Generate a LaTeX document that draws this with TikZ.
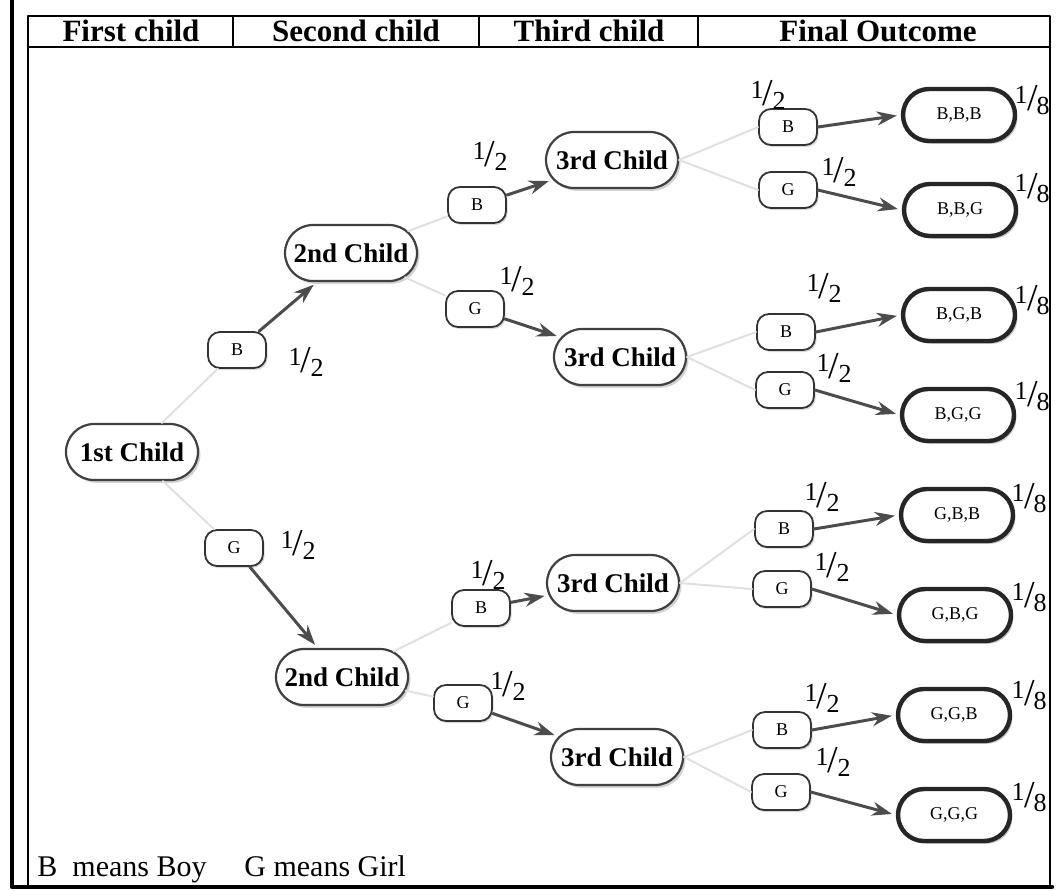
\documentclass[tikz,border=0pt]{standalone}
\usepackage{fontspec}
\setmainfont{Liberation Serif}
\usepackage{tikz}
\usetikzlibrary{arrows.meta,shapes.misc,shadows}

\newcommand{\frc}[2]{\raisebox{0.55ex}{#1}\kern-0.02em{\fontsize{19}{19}\selectfont/}\kern-0.04em\raisebox{-0.4ex}{#2}}

\tikzset{
	stage/.style={rounded rectangle, draw=black!75, line width=1.1pt, fill=white,
		drop shadow={shadow xshift=1.2pt, shadow yshift=-1.4pt, fill=black!35},
		minimum width=68pt, minimum height=28pt, inner sep=1pt,
		font=\fontsize{13.5}{13.5}\selectfont\bfseries},
	letter/.style={rounded corners=6pt, draw=black!80, line width=0.9pt, fill=white,
		drop shadow={shadow xshift=0.8pt, shadow yshift=-1pt, fill=black!30},
		minimum width=29pt, minimum height=18pt, inner sep=1pt,
		font=\fontsize{9}{9}\selectfont},
	outcome/.style={rounded rectangle, draw=black!85, line width=2.2pt, fill=white,
		drop shadow={shadow xshift=1.2pt, shadow yshift=-1.4pt, fill=black!45},
		minimum width=58pt, minimum height=26pt, inner sep=1pt,
		font=\fontsize{9}{9}\selectfont},
	prob/.style={inner sep=0pt, font=\fontsize{13}{13}\selectfont},
	branch/.style={draw=black!70, line width=1.5pt, shorten >=2pt,
		-{Stealth[length=10pt,width=7pt]}},
	faint/.style={draw=black!12, line width=1pt},
	head/.style={font=\fontsize{15.5}{15.5}\selectfont\bfseries},
	legend/.style={anchor=base west, inner sep=0pt, font=\fontsize{15}{15}\selectfont}
}

\begin{document}
\begin{tikzpicture}[x=0.5pt,y=-0.5pt, line cap=round, line join=round]

	\useasboundingbox (0,0) rectangle (1058,890);

	% frame and header row
	\draw[line width=2.2pt] (12,0) -- (12,887) -- (1052,887);
	\draw[line width=0.9pt] (28,887) -- (28,16) -- (1050,16) -- (1050,887);
	\draw[line width=1.2pt] (28,47) -- (1050,47);
	\draw[line width=0.8pt] (233,16) -- (233,47);
	\draw[line width=0.8pt] (479,16) -- (479,47);
	\draw[line width=0.8pt] (698,16) -- (698,47);

	\node[head] (h1) at (131,31) {First child};
	\node[head] (h2) at (356,31) {Second child};
	\node[head] (h3) at (589,31) {Third child};
	\node[head] (h4) at (878,31) {Final Outcome};

	% first child
	\node[stage] (c1) at (132,452) {1st Child};

	% second child
	\node[letter] (b) at (237,350) {B};
	\node[letter] (g) at (234,548) {G};
	\node[prob] (pb) at (306,362) {\frc{1}{2}};
	\node[prob] (pg) at (298,545) {\frc{1}{2}};
	\node[stage] (cb) at (351,253) {2nd Child};
	\node[stage] (cg) at (342,677) {2nd Child};

	% third child
	\node[letter] (bb) at (477,205) {B};
	\node[letter] (bg) at (475,309) {G};
	\node[letter] (gb) at (481,608) {B};
	\node[letter] (gg) at (463,703) {G};
	\node[prob] (pbb) at (490,156) {\frc{1}{2}};
	\node[prob] (pbg) at (517,281) {\frc{1}{2}};
	\node[prob] (pgb) at (488,575) {\frc{1}{2}};
	\node[prob] (pgg) at (508,686) {\frc{1}{2}};
	\node[stage] (cbb) at (612,160) {3rd Child};
	\node[stage] (cbg) at (620,357) {3rd Child};
	\node[stage] (cgb) at (613,583) {3rd Child};
	\node[stage] (cgg) at (617,757) {3rd Child};

	% final outcome
	\node[letter] (bbb) at (788,127) {B};
	\node[letter] (bbg) at (788,190) {G};
	\node[letter] (bgb) at (786,332) {B};
	\node[letter] (bgg) at (785,390) {G};
	\node[letter] (gbb) at (784,529) {B};
	\node[letter] (gbg) at (782,589) {G};
	\node[letter] (ggb) at (782,730) {B};
	\node[letter] (ggg) at (781,792) {G};

	\node[prob] (pbbb) at (768,95) {\frc{1}{2}};
	\node[prob] (pbbg) at (839,172) {\frc{1}{2}};
	\node[prob] (pbgb) at (824,288) {\frc{1}{2}};
	\node[prob] (pbgg) at (834,368) {\frc{1}{2}};
	\node[prob] (pgbb) at (822,497) {\frc{1}{2}};
	\node[prob] (pgbg) at (832,567) {\frc{1}{2}};
	\node[prob] (pggb) at (822,698) {\frc{1}{2}};
	\node[prob] (pggg) at (833,762) {\frc{1}{2}};

	\node[outcome] (obbb) at (959,115) {B,B,B};
	\node[outcome] (obbg) at (960,210) {B,B,G};
	\node[outcome] (obgb) at (959,315) {B,G,B};
	\node[outcome] (obgg) at (958,415) {B,G,G};
	\node[outcome] (ogbb) at (957,515) {G,B,B};
	\node[outcome] (ogbg) at (955,615) {G,B,G};
	\node[outcome] (oggb) at (954,715) {G,G,B};
	\node[outcome] (oggg) at (954,815) {G,G,G};

	\node[prob] (q1) at (1032,100) {\frc{1}{8}};
	\node[prob] (q2) at (1032,188) {\frc{1}{8}};
	\node[prob] (q3) at (1032,300) {\frc{1}{8}};
	\node[prob] (q4) at (1032,396) {\frc{1}{8}};
	\node[prob] (q5) at (1029,498) {\frc{1}{8}};
	\node[prob] (q6) at (1029,597) {\frc{1}{8}};
	\node[prob] (q7) at (1029,695) {\frc{1}{8}};
	\node[prob] (q8) at (1029,797) {\frc{1}{8}};

	% faint lines into the letters
	\draw[faint] (c1) -- (b);
	\draw[faint] (c1) -- (g);
	\draw[faint] (cb) -- (bb);
	\draw[faint] (cb) -- (bg);
	\draw[faint] (cg) -- (gb);
	\draw[faint] (cg) -- (gg);
	\draw[faint] (cbb.east) -- (bbb.west);
	\draw[faint] (cbb.east) -- (bbg.west);
	\draw[faint] (cbg.east) -- (bgb.west);
	\draw[faint] (cbg.east) -- (bgg.west);
	\draw[faint] (cgb.east) -- (gbb.west);
	\draw[faint] (cgb.east) -- (gbg.west);
	\draw[faint] (cgg.east) -- (ggb.west);
	\draw[faint] (cgg.east) -- (ggg.west);

	% arrows
	\draw[branch] (b) -- (cb);
	\draw[branch] (g) -- (cg);
	\draw[branch] (bb) -- (cbb);
	\draw[branch] (bg) -- (cbg);
	\draw[branch] (gb) -- (cgb);
	\draw[branch] (gg) -- (cgg);
	\draw[branch] (bbb.east) -- (obbb.west);
	\draw[branch] (bbg.east) -- (obbg.west);
	\draw[branch] (bgb.east) -- (obgb.west);
	\draw[branch] (bgg.east) -- (obgg.west);
	\draw[branch] (gbb.east) -- (ogbb.west);
	\draw[branch] (gbg.east) -- (ogbg.west);
	\draw[branch] (ggb.east) -- (oggb.west);
	\draw[branch] (ggg.east) -- (oggg.west);

	% legend
	\node[legend] (legb) at (37,876) {B\ \ means Boy};
	\node[legend] (legg) at (244,876) {G means Girl};

\end{tikzpicture}
\end{document}
